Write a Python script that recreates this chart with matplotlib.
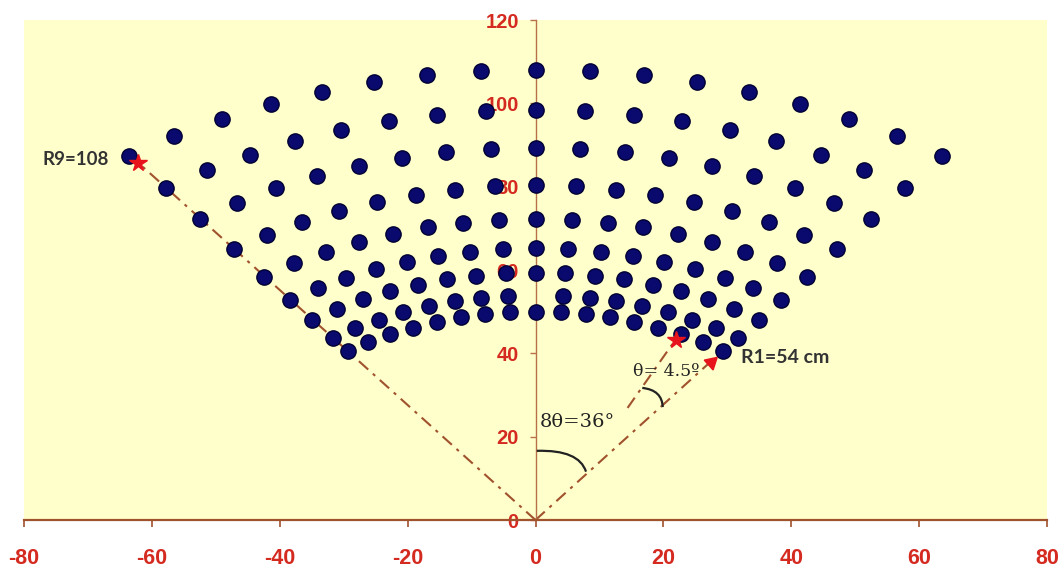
import numpy as np
import matplotlib
matplotlib.use("Agg")
import matplotlib.pyplot as plt
from matplotlib.path import Path
from matplotlib.patches import PathPatch

# ---- data ----
ring_radii = [50.0, 54.0, 59.4, 65.2, 72.2, 80.3, 89.3, 98.4, 108.1]
ring_angles_deg = [-36.0, -31.5, -27.0, -22.5, -18.0, -13.5, -9.0, -4.5, 0.0,
                   4.5, 9.0, 13.5, 18.0, 22.5, 27.0, 31.5, 36.0]
missing_points = [(54.0, 0.0)]  # (radius, angle) without a detector

x_ticks = [-80, -60, -40, -20, 0, 20, 40, 60, 80]
y_ticks = [0, 20, 40, 60, 80, 100, 120]

left_ray_x, left_ray_y = [0, -62.1], [0, 85.7]
right_ray_x, right_ray_y = [0, 27.4], [0, 38.0]
theta_ray_x, theta_ray_y = [14.4, 21.9], [26.9, 43.3]

# ---- build points ----
xs, ys = [], []
for r in ring_radii:
    for a in ring_angles_deg:
        if (r, a) in missing_points:
            continue
        t = np.deg2rad(a)
        xs.append(r * np.sin(t))
        ys.append(r * np.cos(t))

fig = plt.figure(figsize=(10.64, 5.78), dpi=100)
fig.patch.set_facecolor("white")
ax = fig.add_axes([24 / 1064, 58 / 578, 1023 / 1064, 500 / 578])
ax.set_facecolor("#FFFFCC")
ax.set_xlim(-80, 80)
ax.set_ylim(0, 120)

axis_col = "#A0522D"
ray_col = "#A0522D"
for s in ["top", "right"]:
    ax.spines[s].set_visible(False)
ax.spines["left"].set_position(("data", 0))
ax.spines["left"].set_color("#B8704A")
ax.spines["left"].set_linewidth(1.0)
ax.spines["bottom"].set_color(axis_col)
ax.spines["bottom"].set_linewidth(1.6)

ax.set_xticks(x_ticks)
ax.set_yticks(y_ticks)
ax.set_xticklabels([str(v) for v in x_ticks])
ax.set_yticklabels([str(v) for v in y_ticks])
tick_col = "#D42A20"
ax.tick_params(axis="x", direction="out", length=5, width=1.2, color=axis_col,
               labelcolor=tick_col, labelsize=15.5, pad=15)
ax.tick_params(axis="y", direction="out", length=4, width=1.0, color="#B8704A",
               labelcolor=tick_col, labelsize=14.5, pad=8)
for lab in ax.get_xticklabels() + ax.get_yticklabels():
    lab.set_fontfamily("Liberation Sans")
    lab.set_fontweight("bold")

# rays
ls = (0, (6, 3, 1.5, 3))
ax.plot(left_ray_x, left_ray_y, color=ray_col, lw=1.5, linestyle=ls, zorder=2)
ax.plot(right_ray_x, right_ray_y, color=ray_col, lw=1.5, linestyle=ls, zorder=2)
ax.plot(theta_ray_x, theta_ray_y, color=ray_col, lw=1.5, linestyle=ls, zorder=2)

# detectors
ax.plot(xs, ys, linestyle="none", marker="o", markersize=11,
        markerfacecolor="#0A0A6E", markeredgecolor="#000033",
        markeredgewidth=1.0, zorder=3)

# red markers at the ray ends
ax.plot([left_ray_x[1]], [left_ray_y[1]], marker="*", color="#E8141C",
        markersize=13, zorder=4, linestyle="none")
ax.plot([theta_ray_x[1]], [theta_ray_y[1]], marker="*", color="#E8141C",
        markersize=13, zorder=4, linestyle="none")
ax.plot([right_ray_x[1]], [right_ray_y[1]], marker=(3, 0, -48), color="#E8141C",
        markersize=11, zorder=4, linestyle="none")

# angle brackets
br1 = Path([(0.2, 16.6), (6.8, 16.9), (7.9, 11.6)],
           [Path.MOVETO, Path.CURVE3, Path.CURVE3])
ax.add_patch(PathPatch(br1, facecolor="none", edgecolor="#222222", lw=1.6, zorder=3))
br2 = Path([(16.7, 31.7), (19.8, 31.2), (19.9, 27.1)],
           [Path.MOVETO, Path.CURVE3, Path.CURVE3])
ax.add_patch(PathPatch(br2, facecolor="none", edgecolor="#222222", lw=1.6, zorder=3))

# texts
ax.text(0.6, 23.5, "8θ=36°", fontsize=14, family="DejaVu Serif", color="#222222",
        ha="left", va="center")
ax.text(15.2, 35.6, "θ= 4.5º", fontsize=12.5, family="DejaVu Serif", color="#222222",
        ha="left", va="center")
ax.text(32.2, 39.0, "R1=54 cm", fontsize=14, family="Lato", fontweight="bold",
        color="#333333", ha="left", va="center")
ax.text(-66.8, 86.6, "R9=108", fontsize=13.5, family="Lato", fontweight="bold",
        color="#333333", ha="right", va="center")

fig.savefig("out.png", dpi=100)
